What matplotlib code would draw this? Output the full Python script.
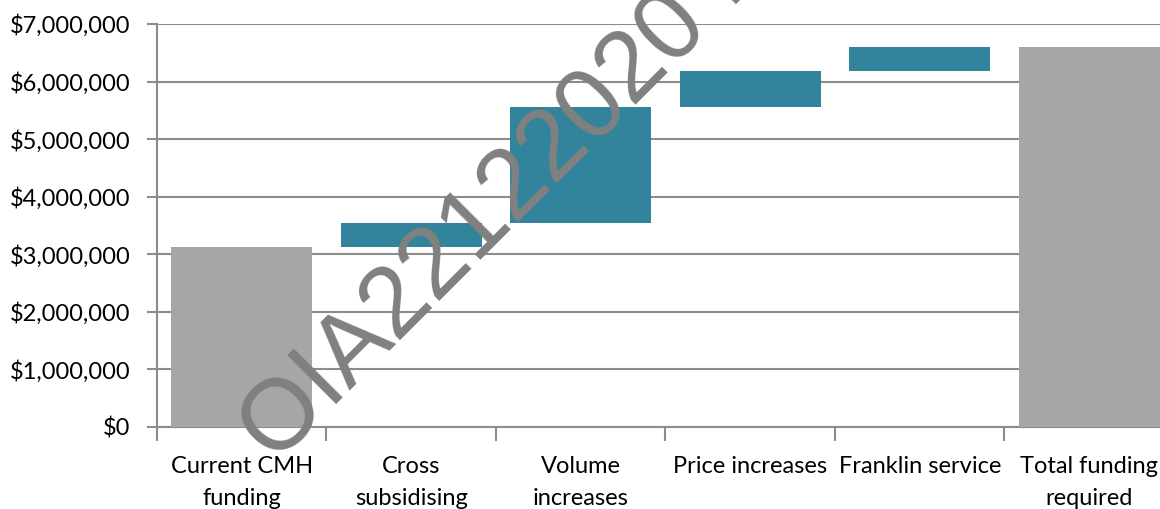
import matplotlib
matplotlib.use("Agg")
import matplotlib.pyplot as plt
from matplotlib.ticker import FuncFormatter, FixedLocator

# waterfall data
categories = ["Current CMH\nfunding", "Cross\nsubsidising", "Volume\nincreases",
              "Price increases", "Franklin service", "Total funding\nrequired"]
start_value = 3130000
increases = [410000, 2010000, 630000, 420000]
y_ticks = [0, 1000000, 2000000, 3000000, 4000000, 5000000, 6000000, 7000000]

total = start_value + sum(increases)
bottoms = [0]
heights = [start_value]
running = start_value
for inc in increases:
    bottoms.append(running)
    heights.append(inc)
    running += inc
bottoms.append(0)
heights.append(total)

teal = "#31849b"
grey = "#a6a6a6"
colors = [grey] + [teal] * len(increases) + [grey]

plt.rcParams["font.family"] = ["Lato", "DejaVu Sans"]

fig = plt.figure(figsize=(11.6, 5.09), dpi=100)
ax = fig.add_axes([157 / 1160, 82 / 509, 1017 / 1160, 403 / 509])

x = list(range(len(categories)))
ax.bar(x, heights, bottom=bottoms, width=0.83, color=colors, zorder=3)

ax.set_xlim(-0.5, len(categories) - 0.5)
ax.set_ylim(0, 7000000)
ax.set_yticks(y_ticks)
ax.yaxis.set_major_formatter(FuncFormatter(lambda v, p: "${:,.0f}".format(v)))
ax.grid(axis="y", color="#8c8c8c", linewidth=1.5, zorder=0)

ax.set_xticks(x)
ax.set_xticklabels(categories, fontsize=17, linespacing=1.65)
ax.xaxis.set_minor_locator(FixedLocator([i - 0.5 for i in range(len(categories) + 1)]))
ax.tick_params(axis="x", which="major", length=0, pad=21)
ax.tick_params(axis="x", which="minor", length=10, width=1.5, color="#8c8c8c")
ax.tick_params(axis="y", length=7, width=1.5, color="#8c8c8c", pad=12, labelsize=17)

for s in ["top", "right"]:
    ax.spines[s].set_visible(False)
for s in ["left", "bottom"]:
    ax.spines[s].set_color("#8c8c8c")
    ax.spines[s].set_linewidth(1.5)

# watermark
fig.text(508 / 1160, 1 - 196 / 509, "OIA22122020 E", rotation=45, fontsize=72,
         color="#808080", ha="center", va="center", family="Liberation Sans", zorder=10)

fig.savefig("out.png", dpi=100)
